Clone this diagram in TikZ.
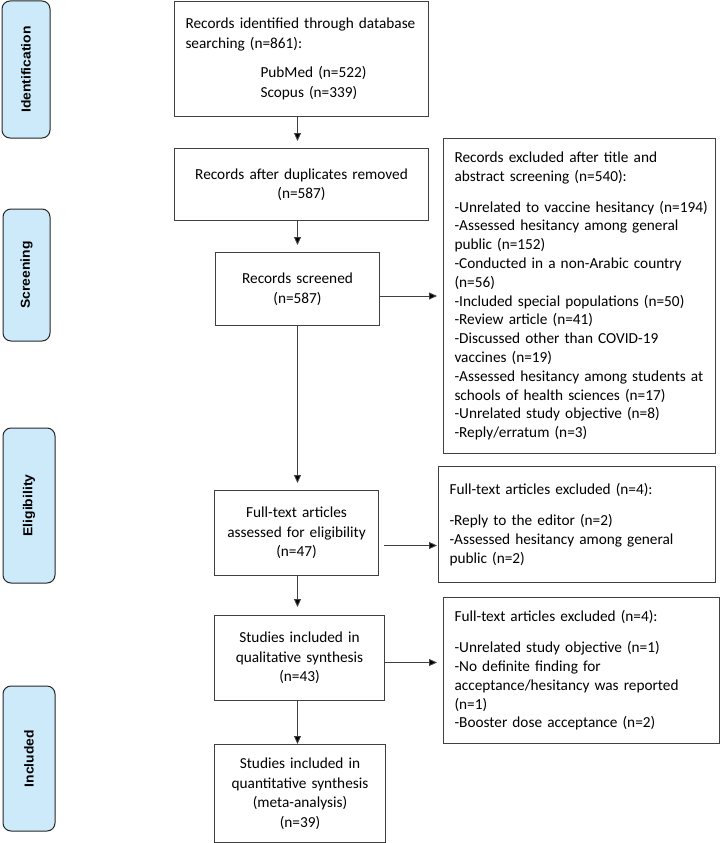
\documentclass[tikz,border=0pt]{standalone}
\usepackage{fontspec}
\setmainfont{Carlito}
\newfontfamily\stagefont{Liberation Sans}
\usepackage{graphicx}
\usetikzlibrary{arrows.meta}
\definecolor{stageblue}{RGB}{205,234,251}
\definecolor{boxgray}{RGB}{64,64,64}

\begin{document}
\begin{tikzpicture}[x=1pt,y=-1pt,
  box/.style={draw=boxgray, line width=1pt, inner xsep=11pt, inner ysep=0pt, anchor=north west, font=\fontsize{15.3}{19.5}\selectfont},
  mainbox/.style={box, align=center},
  exbox/.style={box, align=left, font=\fontsize{15.3}{18.8}\selectfont},
  stage/.style={draw=black!85, line width=1pt, fill=stageblue, rounded corners=8pt, rotate=90, font=\stagefont\bfseries\fontsize{13}{15}\selectfont},
  arr/.style={draw=boxgray, line width=.9pt, shorten >=7pt, -{Triangle[length=8pt,width=7pt,fill=black]}}]
\useasboundingbox (0,0) rectangle (720,843);

% stage labels on the left
\node[stage, minimum width=137pt, minimum height=48pt] (idlab) at (26,69.5) {\scalebox{1.07}[1]{Identification}};
\node[stage, minimum width=132pt, minimum height=47pt] (scrlab) at (26.5,275) {\scalebox{1.07}[1]{Screening}};
\node[stage, minimum width=155pt, minimum height=52pt] (eliglab) at (29,505.5) {\scalebox{1.07}[1]{Eligibility}};
\node[stage, minimum width=145pt, minimum height=52pt] (inclab) at (29,758.5) {\scalebox{1.07}[1]{Included}};

% main column
\node[box, align=left, text width=232pt, minimum height=115pt] (idbox) at (174,1) {Records identified through database\\searching (n=861):\\[10pt]\hspace*{75pt}PubMed (n=522)\\\hspace*{75pt}Scopus (n=339)};
\node[mainbox, text width=232pt, minimum height=72pt] (dupbox) at (174,148) {Records after duplicates removed\\(n=587)};
\node[mainbox, text width=142pt, minimum height=73pt] (scrbox) at (215,252) {Records screened\\(n=587)};
\node[mainbox, text width=142pt, minimum height=85pt] (fullbox) at (214,490) {Full-text articles\\assessed for eligibility\\(n=47)};
\node[mainbox, text width=148pt, minimum height=85pt] (qualbox) at (214,615) {Studies included in\\qualitative synthesis\\(n=43)};
\node[mainbox, text width=149pt, minimum height=98pt] (quantbox) at (214,744) {Studies included in\\quantitative synthesis\\(meta-analysis)\\(n=39)};

% exclusion boxes
\node[exbox, text width=250pt, minimum height=315pt] (exscr) at (443,138) {Records excluded after title and\\abstract screening (n=540):\\[12pt]\mbox{-Unrelated to vaccine hesitancy (n=194)}\\-Assessed hesitancy among general\\public (n=152)\\-Conducted in a non-Arabic country\\(n=56)\\-Included special populations (n=50)\\-Review article (n=41)\\-Discussed other than COVID-19\\vaccines (n=19)\\\mbox{-Assessed hesitancy among students at}\\schools of health sciences (n=17)\\-Unrelated study objective (n=8)\\-Reply/erratum (n=3)};
\node[exbox, text width=255pt, minimum height=116pt] (exfull) at (438,466) {Full-text articles excluded (n=4):\\[12pt]-Reply to the editor (n=2)\\-Assessed hesitancy among general\\public (n=2)};
\node[exbox, text width=254pt, minimum height=146pt] (exqual) at (443,597) {Full-text articles excluded (n=4):\\[12pt]-Unrelated study objective (n=1)\\-No definite finding for\\acceptance/hesitancy was reported\\(n=1)\\-Booster dose acceptance (n=2)};

% arrows
\draw[arr] (idbox.south -| scrbox.north) -- (dupbox.north -| scrbox.north);
\draw[arr] (dupbox.south -| scrbox.north) -- (scrbox.north);
\draw[arr, shorten >=6pt] (scrbox.east |- exscr.west) -- (exscr.west);
\draw[arr] (scrbox.south) -- (fullbox.north -| scrbox.south);
\draw[arr, shorten <=5pt, shorten >=1pt] ([yshift=-12.5pt]fullbox.east) -- ([yshift=-12.5pt]fullbox.east -| exfull.west);
\draw[arr, shorten >=8pt] (fullbox.south -| scrbox.south) -- (qualbox.north -| scrbox.south);
\draw[arr, shorten >=6pt] ([yshift=-4.5pt]qualbox.east) -- ([yshift=-4.5pt]qualbox.east -| exqual.west);
\draw[arr, shorten >=0pt] (qualbox.south -| scrbox.south) -- (quantbox.north -| scrbox.south);
\end{tikzpicture}
\end{document}
